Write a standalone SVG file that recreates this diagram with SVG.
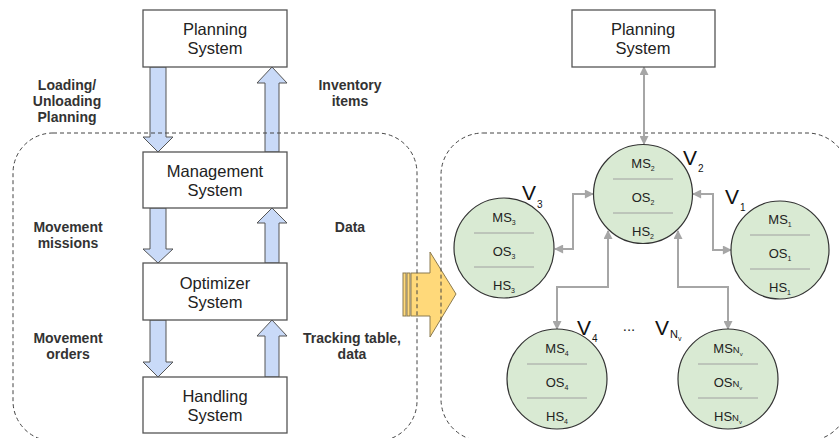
<svg xmlns="http://www.w3.org/2000/svg" width="839" height="438" viewBox="0 0 839 438">
<defs>
<style>
.box{fill:#fff;stroke:#555;stroke-width:1.3}
.bt{font-family:"Liberation Sans",Arial,sans-serif;font-size:16.5px;fill:#222;text-anchor:middle}
.lbl{font-family:"Liberation Sans",Arial,sans-serif;font-size:14px;font-weight:bold;fill:#333;text-anchor:middle}
.barr{fill:#c9daf8;stroke:#555;stroke-width:1}
.dash{fill:none;stroke:#444;stroke-width:1;stroke-dasharray:4 3}
.node{fill:#d9ead3;stroke:#333;stroke-width:1.2}
.sep{stroke:#a0a0a0;stroke-width:1}
.ct{font-family:"Liberation Sans",Arial,sans-serif;font-size:13px;fill:#222;text-anchor:middle}
.vt{font-family:"Liberation Sans",Arial,sans-serif;font-size:21px;fill:#111}
.con{fill:none;stroke:#a6a6a6;stroke-width:2;marker-start:url(#ah);marker-end:url(#ah)}
</style>
<marker id="ah" viewBox="0 0 10 10" refX="9" refY="5" markerUnits="userSpaceOnUse" markerWidth="10" markerHeight="9" orient="auto-start-reverse">
<path d="M0,0 L10,5 L0,10 Z" fill="#a6a6a6"/>
</marker>
</defs>

<!-- left side arrows -->
<g id="left-arrows">
<path class="barr" d="M150,67 L166,67 L166,137 L173,137 L158,152 L143,137 L150,137 Z"/>
<path class="barr" d="M265,152 L279,152 L279,83 L287,83 L272,67 L257,83 L265,83 Z"/>
<path class="barr" d="M150,208 L166,208 L166,249 L173,249 L158,263 L143,249 L150,249 Z"/>
<path class="barr" d="M265,263 L279,263 L279,223 L287,223 L272,208 L257,223 L265,223 Z"/>
<path class="barr" d="M150,320 L166,320 L166,362 L173,362 L158,377 L143,362 L150,362 Z"/>
<path class="barr" d="M265,377 L279,377 L279,336 L287,336 L272,320 L257,336 L265,336 Z"/>
</g>

<g id="yellow-arrow">
<rect x="403" y="273" width="3" height="43" fill="#ffd97a" stroke="#8a7a50" stroke-width="1"/>
<rect x="407" y="273" width="3" height="43" fill="#ffd97a" stroke="#8a7a50" stroke-width="1"/>
<path d="M411,273 L430,273 L430,252 L456,294 L430,337 L430,316 L411,316 Z" fill="#ffd97a" stroke="#8a7a50" stroke-width="1"/>
</g>

<!-- containers -->
<rect class="dash" x="13" y="133" width="404" height="308" rx="40"/>
<rect class="dash" x="441" y="133" width="408" height="308" rx="42"/>

<!-- left boxes -->
<g id="planning-left">
<rect class="box" x="143" y="10" width="144" height="57"/>
<text class="bt" x="215" y="35">Planning</text>
<text class="bt" x="215" y="54">System</text>
</g>
<g id="management">
<rect class="box" x="143" y="152" width="144" height="56"/>
<text class="bt" x="215" y="177">Management</text>
<text class="bt" x="215" y="196">System</text>
</g>
<g id="optimizer">
<rect class="box" x="143" y="263" width="144" height="57"/>
<text class="bt" x="215" y="289">Optimizer</text>
<text class="bt" x="215" y="308">System</text>
</g>
<g id="handling">
<rect class="box" x="143" y="377" width="144" height="56"/>
<text class="bt" x="215" y="402">Handling</text>
<text class="bt" x="215" y="421">System</text>
</g>

<g id="labels">
<text class="lbl" x="67" y="90">Loading/</text>
<text class="lbl" x="67" y="106">Unloading</text>
<text class="lbl" x="67" y="122">Planning</text>
<text class="lbl" x="350" y="90">Inventory</text>
<text class="lbl" x="350" y="106">items</text>
<text class="lbl" x="68" y="232">Movement</text>
<text class="lbl" x="68" y="248">missions</text>
<text class="lbl" x="350" y="232">Data</text>
<text class="lbl" x="68" y="343">Movement</text>
<text class="lbl" x="68" y="359">orders</text>
<text class="lbl" x="352" y="343">Tracking table,</text>
<text class="lbl" x="352" y="359">data</text>
</g>

<!-- right side -->
<g id="connectors">
<path class="con" d="M644,67 V144"/>
<path class="con" d="M555,249 H573 V194 H593"/>
<path class="con" d="M693,194 H713 V250 H731"/>
<path class="con" d="M608,231 V287 H557 V329"/>
<path class="con" d="M678,231 V287 H728 V329"/>
</g>

<g id="planning-right">
<rect class="box" x="572" y="10" width="143" height="57"/>
<text class="bt" x="643" y="35">Planning</text>
<text class="bt" x="643" y="54">System</text>
</g>

<g id="v2">
<circle class="node" cx="643" cy="194" r="49.5"/>
<line class="sep" x1="613" y1="179" x2="673" y2="179"/>
<line class="sep" x1="613" y1="213" x2="673" y2="213"/>
<text class="ct" x="643" y="168">MS<tspan font-size="7" dy="3">2</tspan></text>
<text class="ct" x="643" y="202">OS<tspan font-size="7" dy="3">2</tspan></text>
<text class="ct" x="643" y="236">HS<tspan font-size="7" dy="3">2</tspan></text>
<text class="vt" x="683" y="165">V<tspan font-size="10" dx="1" dy="7">2</tspan></text>
</g>

<g id="v3">
<circle class="node" cx="504" cy="248" r="50"/>
<line class="sep" x1="474" y1="233" x2="534" y2="233"/>
<line class="sep" x1="474" y1="267" x2="534" y2="267"/>
<text class="ct" x="504" y="222">MS<tspan font-size="7" dy="3">3</tspan></text>
<text class="ct" x="504" y="256">OS<tspan font-size="7" dy="3">3</tspan></text>
<text class="ct" x="504" y="290">HS<tspan font-size="7" dy="3">3</tspan></text>
<text class="vt" x="522" y="200">V<tspan font-size="10" dx="1" dy="8">3</tspan></text>
</g>

<g id="v1">
<circle class="node" cx="780" cy="250" r="49"/>
<line class="sep" x1="750" y1="235" x2="810" y2="235"/>
<line class="sep" x1="750" y1="269" x2="810" y2="269"/>
<text class="ct" x="780" y="224">MS<tspan font-size="7" dy="3">1</tspan></text>
<text class="ct" x="780" y="258">OS<tspan font-size="7" dy="3">1</tspan></text>
<text class="ct" x="780" y="292">HS<tspan font-size="7" dy="3">1</tspan></text>
<text class="vt" x="725" y="204">V<tspan font-size="10" dx="1" dy="7">1</tspan></text>
</g>

<g id="v4">
<circle class="node" cx="557" cy="379" r="50"/>
<line class="sep" x1="527" y1="364" x2="587" y2="364"/>
<line class="sep" x1="527" y1="398" x2="587" y2="398"/>
<text class="ct" x="557" y="353">MS<tspan font-size="7" dy="3">4</tspan></text>
<text class="ct" x="557" y="387">OS<tspan font-size="7" dy="3">4</tspan></text>
<text class="ct" x="557" y="421">HS<tspan font-size="7" dy="3">4</tspan></text>
<text class="vt" x="577" y="335">V<tspan font-size="10" dx="1" dy="7">4</tspan></text>
</g>

<text id="dots" x="629" y="331" font-family="Liberation Sans, Arial, sans-serif" font-size="15" fill="#222" text-anchor="middle">...</text>

<g id="vnv">
<circle class="node" cx="728" cy="379" r="50"/>
<line class="sep" x1="698" y1="364" x2="758" y2="364"/>
<line class="sep" x1="698" y1="398" x2="758" y2="398"/>
<text class="ct" x="728" y="353">MS<tspan font-size="9.5">N</tspan><tspan font-size="6" dy="3">v</tspan></text>
<text class="ct" x="728" y="387">OS<tspan font-size="9.5">N</tspan><tspan font-size="6" dy="3">v</tspan></text>
<text class="ct" x="728" y="421">HS<tspan font-size="9.5">N</tspan><tspan font-size="6" dy="3">v</tspan></text>
<text class="vt" x="655" y="335">V<tspan font-size="11" dx="1" dy="3">N</tspan><tspan font-size="7" dy="3">v</tspan></text>
</g>
</svg>
